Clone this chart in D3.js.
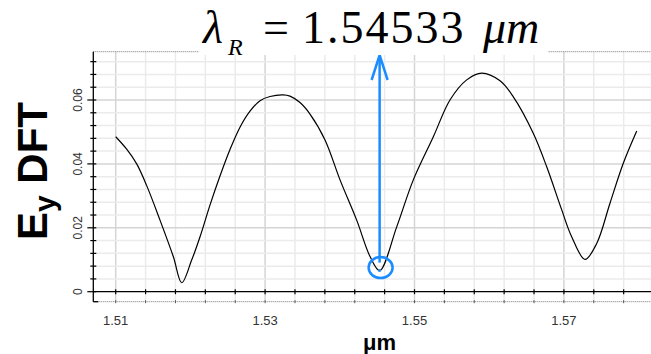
<!DOCTYPE html>
<html>
<head>
<meta charset="utf-8">
<script src="https://cdn.jsdelivr.net/npm/d3@7"></script>
<style>
	body { margin: 0; background: #fff; }
	svg { display: block; }
</style>
</head>
<body>
<div id="chart"></div>
<script>
	// spectrum (wavelength in um, Ey DFT amplitude)
	var wavelength = [1.5100, 1.51147, 1.51281, 1.51415, 1.51593, 1.51771, 1.51884, 1.52017, 1.52129,
		1.52262, 1.52396, 1.5253, 1.52664, 1.52798, 1.52932, 1.53066, 1.5324, 1.53333, 1.53467,
		1.53601, 1.53802, 1.54003, 1.54226, 1.54405, 1.54533, 1.54762, 1.54984, 1.55252, 1.55475,
		1.55699, 1.559, 1.56145, 1.56323, 1.5659, 1.5677, 1.56971, 1.57104, 1.57283, 1.57439,
		1.57617, 1.57795, 1.57975];
	var eyDFT = [0.0485, 0.0446, 0.0400, 0.0332, 0.0224, 0.0110, 0.0028, 0.0099, 0.0172,
		0.0271, 0.0362, 0.0445, 0.0515, 0.0565, 0.0598, 0.0611, 0.0616, 0.0612, 0.0592,
		0.0556, 0.0475, 0.0350, 0.0224, 0.0110, 0.0066, 0.0203, 0.0350, 0.0485, 0.0600,
		0.0663, 0.0684, 0.0660, 0.0610, 0.0496, 0.0391, 0.0256, 0.0172, 0.0101, 0.0151,
		0.0277, 0.0402, 0.0503];
	var resonance = 1.54533;
	var resonanceValue = 0.0066;
	var xTickLabels = [1.51, 1.53, 1.55, 1.57];
	var yTickLabels = [0, 0.02, 0.04, 0.06];
	var xMinorStep = 0.004, yMinorStep = 0.004;

	var W = 651, H = 354;
	var plotLeft = 93.3, plotRight = 651, plotTop = 51.7, plotBottom = 301.7;
	var blue = '#1a8cff';

	var svg = d3.select('#chart').append('svg')
		.attr('width', W)
		.attr('height', H)
		.style('font-family', '"Liberation Sans", Arial, sans-serif');

	var x = d3.scaleLinear().domain([1.51, 1.57]).range([115.7, 563.9]);
	var y = d3.scaleLinear().domain([0, 0.06]).range([291.7, 100]);

	var xMinor = d3.range(0, 19).map(i => 1.51 + i * xMinorStep).filter(v => x(v) <= plotRight);
	var yMinor = d3.range(0, 19).map(i => i * yMinorStep).filter(v => y(v) >= plotTop);
	var isMajor = (v, list) => list.some(m => Math.abs(m - v) < 1e-6);

	// grid
	var grid = svg.append('g');
	grid.selectAll('line.gx')
		.data(xMinor)
		.enter().append('line')
		.attr('x1', d => x(d)).attr('x2', d => x(d))
		.attr('y1', plotTop).attr('y2', plotBottom)
		.attr('stroke', d => isMajor(d, xTickLabels) ? '#d4d4d4' : '#ebebeb')
		.attr('stroke-width', 1.5);
	grid.selectAll('line.gy')
		.data(yMinor.filter(v => v > 0))
		.enter().append('line')
		.attr('x1', plotLeft).attr('x2', plotRight)
		.attr('y1', d => y(d)).attr('y2', d => y(d))
		.attr('stroke', d => isMajor(d, yTickLabels) ? '#d4d4d4' : '#ebebeb')
		.attr('stroke-width', 1.5);

	// dotted frame top / bottom
	[plotTop, plotBottom].forEach(py => {
		svg.append('line')
			.attr('x1', plotLeft).attr('x2', plotRight)
			.attr('y1', py).attr('y2', py)
			.attr('stroke', '#777')
			.attr('stroke-dasharray', '1,1');
	});

	// axes lines
	svg.append('line')
		.attr('x1', plotLeft).attr('x2', plotRight)
		.attr('y1', y(0)).attr('y2', y(0))
		.attr('stroke', '#000').attr('stroke-width', 1.3);
	svg.append('line')
		.attr('x1', plotLeft).attr('x2', plotLeft)
		.attr('y1', plotTop).attr('y2', plotBottom)
		.attr('stroke', '#000').attr('stroke-width', 1.3);
	svg.append('line')
		.attr('x1', plotLeft).attr('x2', plotLeft + 5)
		.attr('y1', plotBottom).attr('y2', plotBottom)
		.attr('stroke', '#000').attr('stroke-width', 1.3);

	// x ticks
	svg.selectAll('line.tx')
		.data(xMinor)
		.enter().append('line')
		.attr('x1', d => x(d)).attr('x2', d => x(d))
		.attr('y1', y(0) - 2.5).attr('y2', y(0) + 2.5)
		.attr('stroke', '#000').attr('stroke-width', 1.2);
	svg.selectAll('line.tb')
		.data(xMinor)
		.enter().append('line')
		.attr('x1', d => x(d)).attr('x2', d => x(d))
		.attr('y1', plotBottom - 1.5).attr('y2', plotBottom + 1.5)
		.attr('stroke', '#555').attr('stroke-width', 1);
	svg.selectAll('text.xl')
		.data(xTickLabels)
		.enter().append('text')
		.attr('x', d => x(d))
		.attr('y', 325)
		.attr('text-anchor', 'middle')
		.attr('font-size', 13)
		.attr('fill', '#333')
		.text(d => d3.format('.2f')(d));

	// y ticks
	svg.selectAll('line.ty')
		.data(yMinor)
		.enter().append('line')
		.attr('x1', d => isMajor(d, yTickLabels) ? plotLeft - 6 : plotLeft - 3)
		.attr('x2', plotLeft + 3)
		.attr('y1', d => y(d)).attr('y2', d => y(d))
		.attr('stroke', '#000').attr('stroke-width', 1.2);
	svg.selectAll('text.yl')
		.data(yTickLabels)
		.enter().append('text')
		.attr('transform', d => 'translate(82,' + y(d) + ') rotate(-90)')
		.attr('text-anchor', 'middle')
		.attr('font-size', 12)
		.attr('fill', '#333')
		.text(d => d === 0 ? '0' : d3.format('.2f')(d));

	// curve
	var line = d3.line()
		.x((d, i) => x(wavelength[i]))
		.y(d => y(d))
		.curve(d3.curveCatmullRom.alpha(0.5));
	svg.append('path')
		.attr('d', line(eyDFT))
		.attr('fill', 'none')
		.attr('stroke', '#000')
		.attr('stroke-width', 1.2);

	// resonance marker
	var rx = x(resonance), ry = y(resonanceValue);
	svg.append('ellipse')
		.attr('cx', rx + 1).attr('cy', ry - 3)
		.attr('rx', 12).attr('ry', 10.5)
		.attr('fill', 'none')
		.attr('stroke', blue).attr('stroke-width', 2.5);
	svg.append('circle')
		.attr('cx', rx).attr('cy', ry)
		.attr('r', 1.5)
		.attr('fill', blue);
	svg.append('line')
		.attr('x1', rx).attr('x2', rx)
		.attr('y1', ry - 8).attr('y2', 56)
		.attr('stroke', blue).attr('stroke-width', 2.5);
	svg.append('path')
		.attr('d', 'M' + (rx - 8) + ',80 L' + rx + ',55 L' + (rx + 8) + ',80')
		.attr('fill', 'none')
		.attr('stroke', blue).attr('stroke-width', 2.5);

	// title
	svg.append('rect')
		.attr('x', 199).attr('y', 45)
		.attr('width', 349).attr('height', 10)
		.attr('fill', '#fff');
	var title = svg.append('g')
		.attr('font-family', '"Liberation Serif", serif')
		.attr('fill', '#000');
	title.append('text').attr('x', 203).attr('y', 43)
		.attr('font-size', 46).attr('font-style', 'italic').text('λ');
	title.append('text').attr('x', 228).attr('y', 55)
		.attr('font-size', 24).attr('font-style', 'italic').text('R');
	title.append('text').attr('x', 263).attr('y', 43)
		.attr('font-size', 46).text('=');
	title.append('text').attr('x', 302).attr('y', 43)
		.attr('font-size', 46).attr('letter-spacing', 2).text('1.54533');
	title.append('text').attr('x', 483).attr('y', 43)
		.attr('font-size', 46).attr('font-style', 'italic').text('μm');

	// axis titles
	svg.append('text')
		.attr('x', x(resonance))
		.attr('y', 350)
		.attr('text-anchor', 'middle')
		.attr('font-size', 22)
		.attr('font-weight', 'bold')
		.text('μm');

	var yt = svg.append('text')
		.attr('transform', 'translate(47,240) rotate(-90)')
		.attr('font-size', 42)
		.attr('font-weight', 'bold');
	yt.append('tspan').text('E');
	yt.append('tspan').attr('font-size', 30).attr('dy', 8).text('y');
	yt.append('tspan').attr('dy', -8).text(' DFT');
</script>
</body>
</html>
